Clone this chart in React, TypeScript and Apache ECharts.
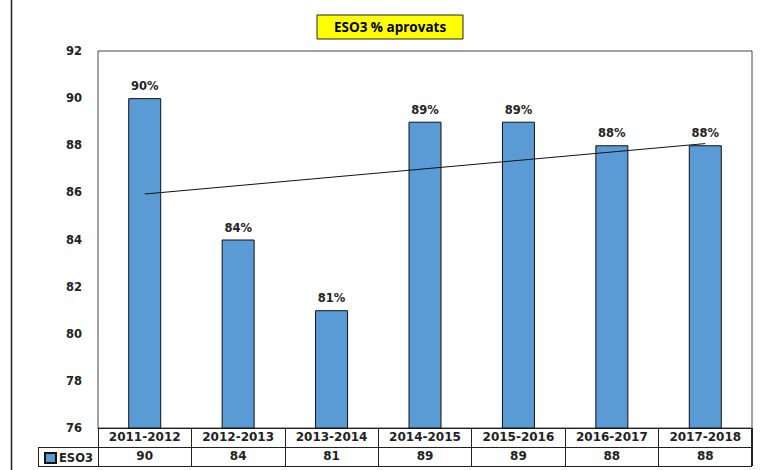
import React, { useEffect, useRef } from "react";
import * as echarts from "echarts";

const categories = ["2011-2012", "2012-2013", "2013-2014", "2014-2015", "2015-2016", "2016-2017", "2017-2018"];
const eso3Values = [90, 84, 81, 89, 89, 88, 88];
const trendValues = [85.93, null, null, null, null, null, 88.07];
const seriesName = "ESO3";
const titleText = "ESO3 % aprovats";

const W = 760;
const H = 470;
const GL = 98;
const GR = 752;
const GT = 51;
const GB = 428;
const ROW = 19;

export default function App() {
  const ref = useRef<HTMLDivElement>(null);
  useEffect(() => {
    document.body.style.margin = "0";
    const chart = echarts.init(ref.current!, null, { renderer: "svg" });
    const labelFont = { fontFamily: "DejaVu Sans", fontWeight: "bold" as const, fontSize: 11.5, color: "#222" };
    chart.setOption({
      animation: false,
      backgroundColor: "#fff",
      grid: {
        left: GL,
        right: W - GR,
        top: GT,
        bottom: H - GB,
        show: true,
        borderColor: "#444",
        borderWidth: 1,
        backgroundColor: "transparent",
      },
      legend: {
        data: [{ name: seriesName, icon: "rect" }],
        left: 44,
        top: 452,
        itemWidth: 11,
        itemHeight: 10,
        itemGap: 4,
        textStyle: { ...labelFont, padding: [0, 0, 0, -2] },
        padding: 0,
      },
      xAxis: [
        {
          type: "category",
          data: categories,
          position: "bottom",
          axisLine: { show: true, lineStyle: { color: "#222", width: 1 } },
          axisTick: { show: true, interval: 0, length: 2 * ROW, lineStyle: { color: "#222" } },
          axisLabel: { ...labelFont, fontSize: 12, margin: 3, interval: 0, hideOverlap: false },
        },
        {
          type: "category",
          data: eso3Values.map(String),
          position: "bottom",
          offset: ROW,
          axisLine: { show: false },
          axisTick: { show: false },
          axisLabel: { ...labelFont, fontSize: 12, margin: 3, interval: 0 },
        },
      ],
      yAxis: {
        type: "value",
        min: 76,
        max: 92,
        interval: 2,
        axisLine: { show: false },
        axisTick: { show: false },
        splitLine: { show: false },
        axisLabel: { ...labelFont, margin: 16 },
      },
      series: [
        {
          name: seriesName,
          type: "bar",
          data: eso3Values,
          barWidth: 33,
          itemStyle: { color: "#5b9bd5", borderColor: "#111", borderWidth: 1 },
          label: {
            show: true,
            position: "top",
            distance: 6,
            formatter: "{c}%",
            ...labelFont,
          },
        },
        {
          name: "trend",
          type: "line",
          data: trendValues,
          connectNulls: true,
          symbol: "none",
          lineStyle: { color: "#111", width: 1 },
        },
      ],
      graphic: [
        { type: "line", shape: { x1: 11.5, y1: 0, x2: 11.5, y2: H }, style: { stroke: "#222", lineWidth: 1.5 } },
        { type: "line", shape: { x1: 38, y1: GB + ROW + 0.5, x2: GR, y2: GB + ROW + 0.5 }, style: { stroke: "#222", lineWidth: 1 } },
        { type: "line", shape: { x1: 38, y1: GB + 2 * ROW + 0.5, x2: GR, y2: GB + 2 * ROW + 0.5 }, style: { stroke: "#222", lineWidth: 1 } },
        { type: "line", shape: { x1: 38.5, y1: GB + ROW, x2: 38.5, y2: GB + 2 * ROW }, style: { stroke: "#222", lineWidth: 1 } },
        { type: "line", shape: { x1: GL + 0.5, y1: GB, x2: GL + 0.5, y2: GB + 2 * ROW }, style: { stroke: "#222", lineWidth: 1 } },
        { type: "line", shape: { x1: GR - 0.5, y1: GB, x2: GR - 0.5, y2: GB + 2 * ROW }, style: { stroke: "#222", lineWidth: 1 } },
        {
          type: "rect",
          shape: { x: 317, y: 15, width: 146, height: 24 },
          style: { fill: "#ffff00", stroke: "#222", lineWidth: 1 },
        },
        {
          type: "text",
          x: 390,
          y: 27,
          style: {
            text: titleText,
            fontFamily: "Open Sans",
            fontWeight: "bold",
            fontSize: 13.5,
            fill: "#000",
            align: "center",
            verticalAlign: "middle",
          },
        },
      ],
    });
    return () => chart.dispose();
  }, []);
  return <div ref={ref} style={{ width: W, height: H }} />;
}
